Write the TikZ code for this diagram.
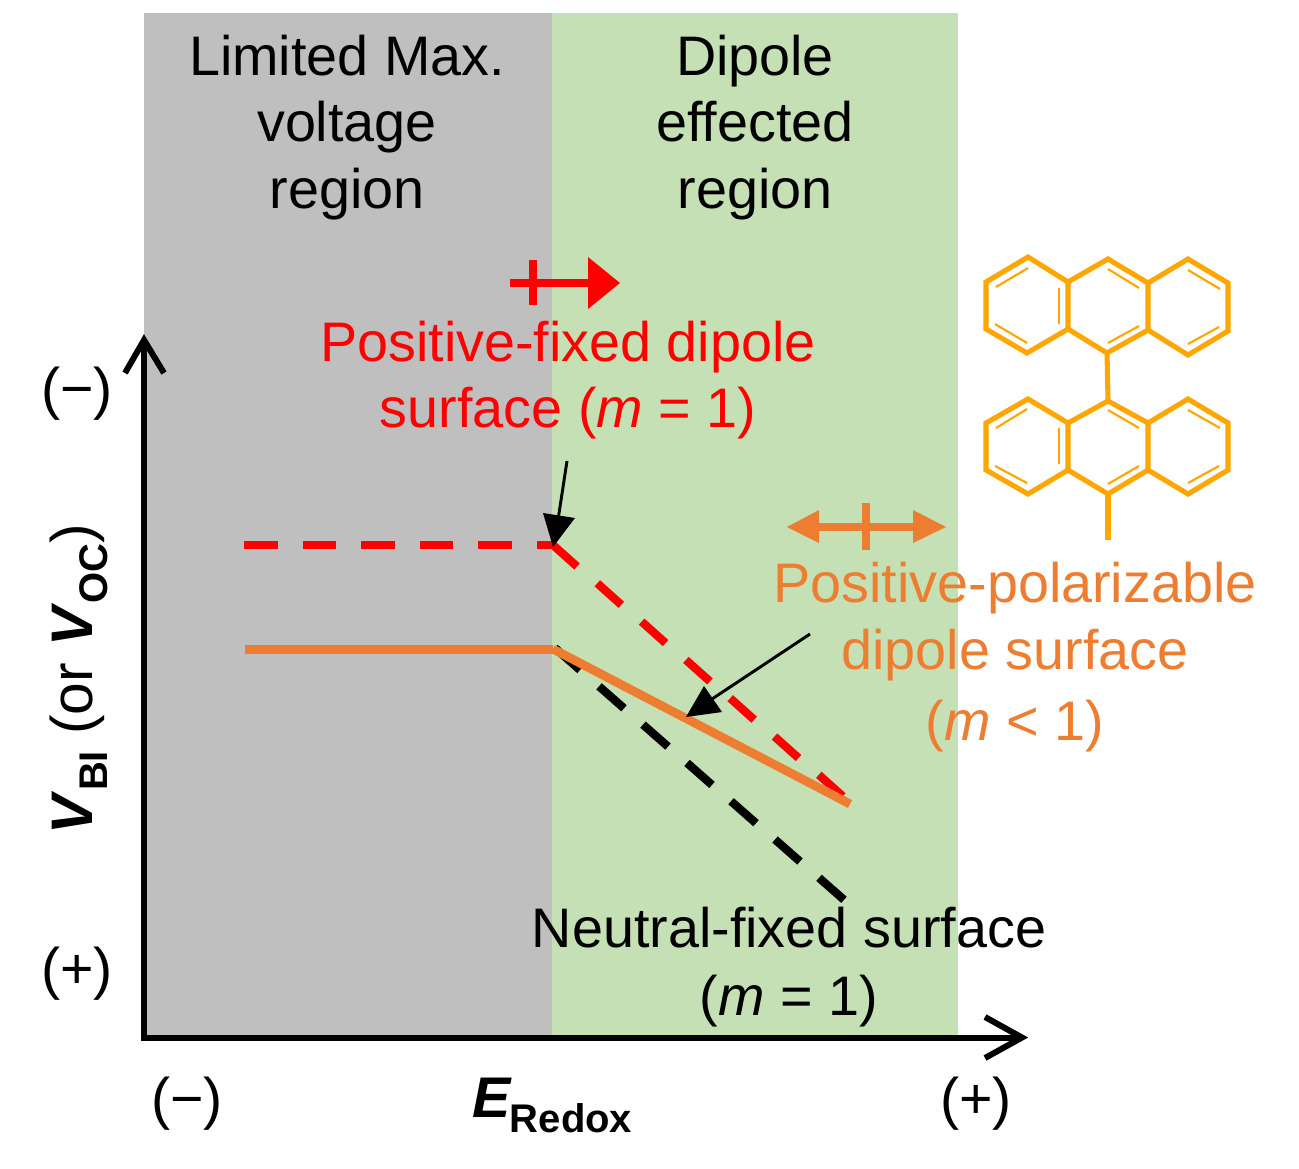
\documentclass[tikz,border=0pt]{standalone}
\usepackage{fontspec}
\setmainfont{Liberation Sans}
\definecolor{grayreg}{HTML}{BFBFBF}
\definecolor{greenreg}{HTML}{C5E0B4}
\definecolor{orng}{HTML}{ED7D31}
\definecolor{mol}{HTML}{FFA600}
\definecolor{redl}{HTML}{FF0000}
\newcommand{\subt}[1]{\raisebox{-0.27em}{\fontsize{30}{32}\selectfont\textbf{#1}}}
\tikzset{
 lab/.style={anchor=base,inner sep=0pt,font=\fontsize{41.8}{48}\selectfont},
 big/.style={anchor=base,inner sep=0pt,font=\fontsize{43}{48}\selectfont},
 axisline/.style={black,line width=4.5pt,line cap=butt,line join=miter},
 redseg/.style={redl,line width=6.2pt},
 blackseg/.style={black,line width=6.2pt},
 orngline/.style={orng,line width=6.6pt},
 molo/.style={mol,line width=3.8pt,line join=miter},
 moli/.style={mol,line width=1.6pt},
 thinarrow/.style={black,line width=2.2pt},
}
\begin{document}
\begin{tikzpicture}[x=0.75pt,y=-0.75pt]
\useasboundingbox (0,0) rectangle (1299,1168);
\fill[grayreg] (144,13) rectangle (552,1037);
\fill[greenreg] (552,13) rectangle (958,1037);
% texts in regions
\node[lab] (l1) at (347,75) {Limited Max.};
\node[lab] (l2) at (347,141) {voltage};
\node[lab] (l3) at (347,208) {region};
\node[lab] (d1) at (755,75) {Dipole};
\node[lab] (d2) at (755,141) {effected};
\node[lab] (d3) at (755,208) {region};
\node[lab,text=redl] (r1) at (568,361) {Positive-fixed dipole};
\node[lab,text=redl] (r2) at (568,427) {surface (\textit{m} = 1)};
\node[lab,text=orng] (o1) at (1015,602) {Positive-polarizable};
\node[lab,text=orng] (o2) at (1015,669) {dipole surface};
\node[lab,text=orng] (o3) at (1015,740) {(\textit{m} < 1)};
% red and black lines
\foreach \a/\b in {244/278,303/336,361/395,420/453,478/512,537/553}
  \draw[redseg] (\a,545) -- (\b,545);
\foreach \i in {0,...,6}
  \draw[redseg] ({553+44.3*\i},{545+38.3*\i}) -- ({577+44.3*\i},{566.5+38.3*\i});
\foreach \i in {0,...,6}
  \draw[blackseg] ({555+44*\i},{648+38.3*\i}) -- ({580+44*\i},{670+38.3*\i});
\draw[orngline] (245,649.5) -- (553,649.5);
\draw[orngline] (553,649) -- (850,804);
% neutral text
\node[lab] (n1) at (789,947) {Neutral-fixed surface};
\node[lab] (n2) at (789,1015) {(\textit{m} = 1)};
% axes
\coordinate (O) at (144,1037.5);
\coordinate (Ytop) at (144,340);
\coordinate (Xend) at (1022,1037.5);
\draw[axisline] (141,1037.5) -- (Xend);
\draw[axisline] (O) -- (Ytop);
\draw[axisline] (125,373) -- (Ytop) -- (164,373);
\draw[axisline] (985,1017) -- (Xend) -- (985,1058);
\node[big] (ym) at (77,408) {(−)};
\node[big] (yp) at (77,988) {(+)};
\node[big] (xm) at (187,1118) {(−)};
\node[big] (xp) at (976,1118) {(+)};
\node[big,anchor=base west] (xl) at (472,1117) {\textbf{\textit{E}}\kern-1.5pt\subt{Redox}};
\node[anchor=base,inner sep=0pt,font=\fontsize{44}{48}\selectfont,rotate=90] (yl) at (92,679) {\textbf{\textit{V}}\subt{BI} (or \textbf{\textit{V}}\subt{OC})};
% thin arrows
\draw[thinarrow] (567,461) -- (558,520);
\fill[black] (543,513) -- (575,518) -- (553,547) -- cycle;
\draw[thinarrow] (810,634) -- (712,699);
\fill[black] (704,686) -- (722,712) -- (686,717) -- cycle;
% red double arrow
\draw[redl,line width=6pt] (510,283) -- (592,283);
\draw[redl,line width=6pt] (533,260) -- (533,305);
\fill[redl] (588,257) -- (620,283) -- (588,309) -- cycle;
% orange double arrow
\draw[orng,line width=6pt] (815,527) -- (917,527);
\draw[orng,line width=6.5pt] (866,503) -- (866,550);
\fill[orng] (819,510) -- (787,527) -- (819,543) -- cycle;
\fill[orng] (913,510) -- (946,527) -- (913,543) -- cycle;
% molecule
\draw[molo] (986,282) -- (1028,257) -- (1068,282) -- (1068,329) -- (1027,353) -- (986,329) -- cycle;
\draw[molo] (1068,282) -- (1108,259) -- (1148,283) -- (1148,330) -- (1107,353) -- (1068,329);
\draw[molo] (1148,283) -- (1188,259) -- (1228,283) -- (1228,331) -- (1188,355) -- (1148,330);
\draw[molo] (1107,353) -- (1108,400);
\draw[molo] (986,423) -- (1028,399) -- (1068,423) -- (1068,470) -- (1028,494) -- (986,470) -- cycle;
\draw[molo] (1068,423) -- (1108,401) -- (1148,423) -- (1148,470) -- (1108,494) -- (1068,470);
\draw[molo] (1148,423) -- (1188,399) -- (1228,423) -- (1228,470) -- (1188,494) -- (1148,470);
\draw[molo] (1108,494) -- (1108,540);
\foreach \a/\b/\c/\d in {996/287/1028/268,995/324/1027/343,1059/288/1059/324,1108/269/1139/288,1108/343/1139/326,1188/270/1220/289,1188/344/1219/327,
 996/428/1027/409,995/466/1027/483,1059/428/1059/464,1108/410/1139/428,1108/484/1139/466,1188/410/1220/428,1188/483/1219/466}
  \draw[moli] (\a,\b) -- (\c,\d);
\end{tikzpicture}
\end{document}
